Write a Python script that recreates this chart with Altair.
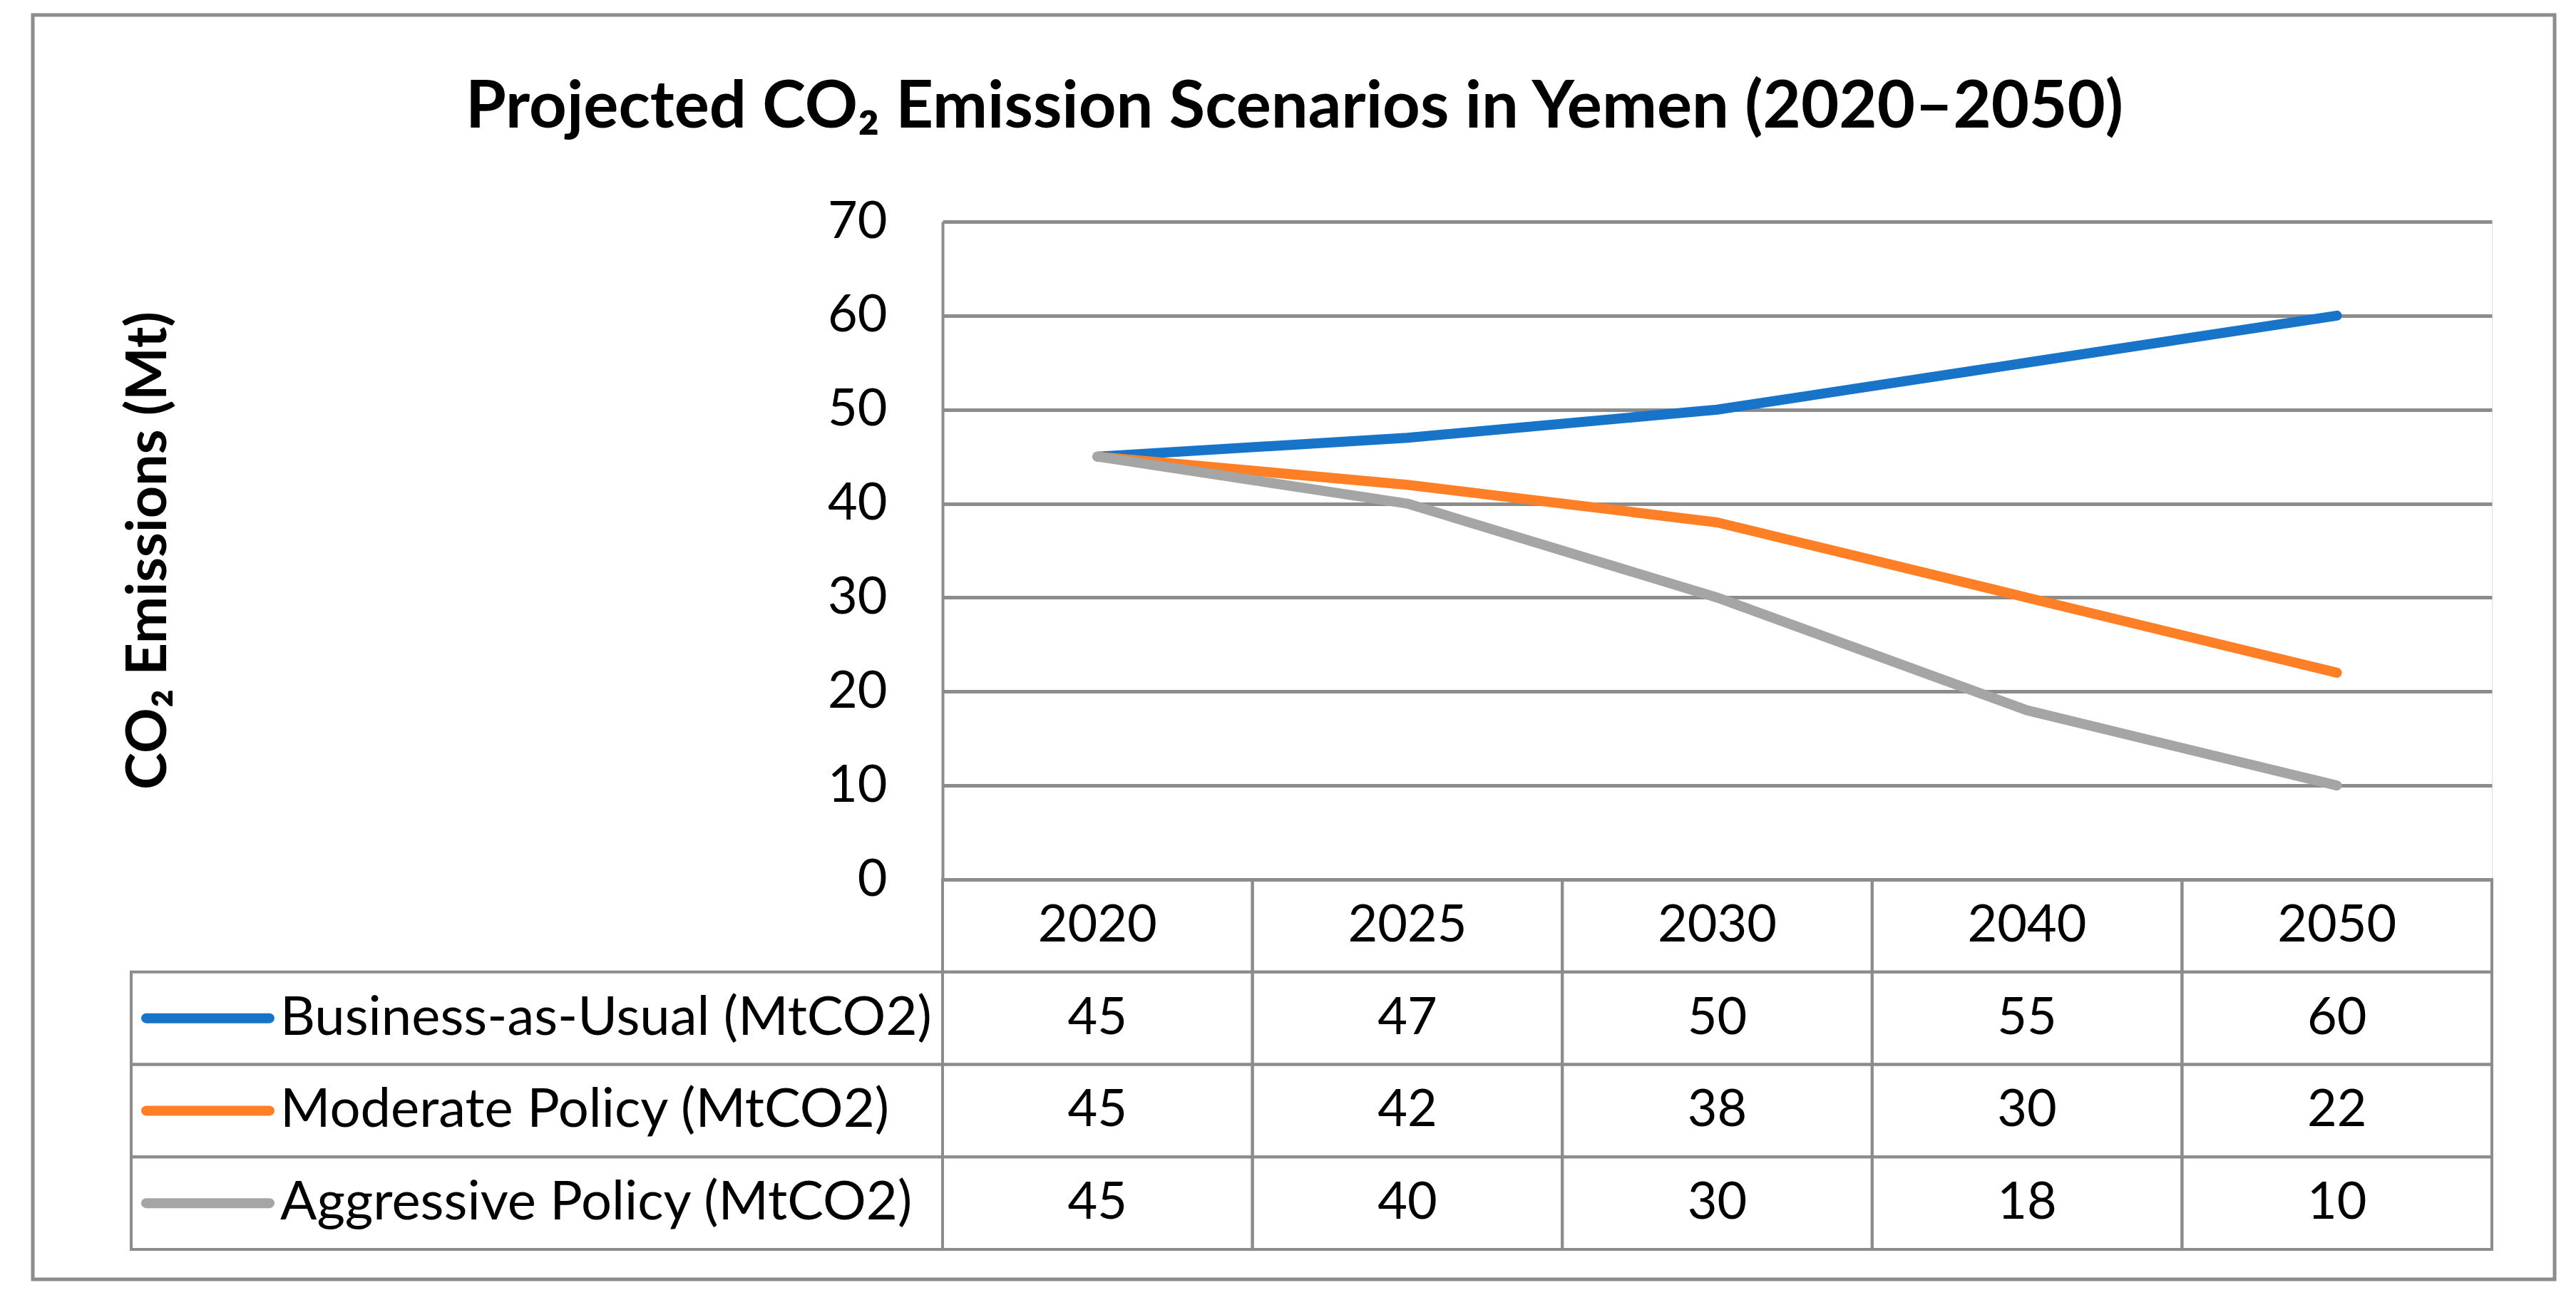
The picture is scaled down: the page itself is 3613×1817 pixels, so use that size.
import altair as alt
import pandas as pd

# ---- data ----
years = ["2020", "2025", "2030", "2040", "2050"]
series_names = [
    "Business-as-Usual (MtCO2)",
    "Moderate Policy (MtCO2)",
    "Aggressive Policy (MtCO2)",
]
bau = [45, 47, 50, 55, 60]
moderate = [45, 42, 38, 30, 22]
aggressive = [45, 40, 30, 18, 10]
y_ticks = [0, 10, 20, 30, 40, 50, 60, 70]
colors = ["#1874C9", "#FF7F27", "#A5A5A5"]

HEADER = "Year"
table_rows = [HEADER] + series_names

values_by_series = [bau, moderate, aggressive]
long_df = pd.DataFrame(
    [
        {"series": s, "row": s, "year": y, "value": v}
        for s, vals in zip(series_names, values_by_series)
        for y, v in zip(years, vals)
    ]
)
header_df = pd.DataFrame({"year": years, "row": HEADER})
cells_df = pd.DataFrame([{"year": y, "row": r} for r in table_rows for y in years])
label_df = pd.DataFrame({"series": series_names, "row": series_names})
frame_df = pd.DataFrame({"k": [0]})

FONT = "Lato"
GRID = "#8C8C8C"

# plot area (line region) size in px
W, H = 2173, 923
TABLE_BOTTOM = 1442
LABEL_COL = 1138

x_scale = alt.Scale(type="band", domain=years, paddingInner=0, paddingOuter=0)
row_scale = alt.Scale(type="band", domain=table_rows, range=[H, TABLE_BOTTOM],
                      paddingInner=0, paddingOuter=0)
color_scale = alt.Scale(domain=series_names, range=colors)

x_band = alt.X("year:N", scale=x_scale, axis=None, sort=years)
x_mid = alt.X("year:N", scale=x_scale, axis=None, sort=years, bandPosition=0.5)
y_row = alt.Y("row:N", scale=row_scale, axis=None, sort=table_rows)
y_row_mid = alt.Y("row:N", scale=row_scale, axis=None, sort=table_rows, bandPosition=0.5)

frame = alt.Chart(frame_df).mark_rect(
    fillOpacity=0, stroke=GRID, strokeWidth=5
).encode(
    x=alt.value(-1276), x2=alt.value(2261), y=alt.value(-290), y2=alt.value(1484)
)

year_cells = alt.Chart(cells_df).mark_rect(
    fillOpacity=0, stroke=GRID, strokeWidth=4
).encode(x=x_band, y=y_row)

label_cells = alt.Chart(label_df).mark_rect(
    fillOpacity=0, stroke=GRID, strokeWidth=4
).encode(x=alt.value(-LABEL_COL), x2=alt.value(0), y=y_row)

swatches = alt.Chart(label_df).mark_rule(
    strokeWidth=14, strokeCap="round"
).encode(
    x=alt.value(-1117), x2=alt.value(-944), y=y_row_mid,
    color=alt.Color("series:N", scale=color_scale, legend=None),
)

labels = alt.Chart(label_df).mark_text(
    align="left", baseline="middle", fontSize=76, font=FONT, color="black"
).encode(x=alt.value(-929), y=y_row_mid, text="series:N")

header_text = alt.Chart(header_df).mark_text(
    align="center", baseline="middle", fontSize=72, font=FONT, color="black"
).encode(x=x_mid, y=y_row_mid, text="year:N")

value_text = alt.Chart(long_df).mark_text(
    align="center", baseline="middle", fontSize=72, font=FONT, color="black"
).encode(x=x_mid, y=y_row_mid, text="value:Q")

lines = alt.Chart(long_df).mark_line(
    strokeWidth=14, strokeCap="round", strokeJoin="round"
).encode(
    x=x_mid,
    y=alt.Y(
        "value:Q",
        scale=alt.Scale(domain=[0, 70], nice=False, zero=True),
        axis=alt.Axis(
            values=y_ticks,
            grid=True, gridColor=GRID, gridWidth=5,
            domain=True, domainColor=GRID, domainWidth=4,
            ticks=False,
            labelFont=FONT, labelFontSize=72, labelColor="black", labelPadding=78,
            title="CO₂ Emissions (Mt)",
            titleFont=FONT, titleFontSize=79, titleFontWeight="bold", titleColor="black",
            titleAngle=270, titleAlign="center", titleBaseline="middle",
            titleX=-1114, titleY=461,
        ),
    ),
    color=alt.Color("series:N", scale=color_scale, legend=None),
    detail="series:N",
)

chart = alt.layer(
    frame, year_cells, label_cells, swatches, labels, header_text, value_text, lines
).resolve_scale(
    y="independent"
).properties(
    width=W,
    height=H,
    autosize=alt.AutoSizeParams(type="none"),
    padding={"left": 1314, "top": 303, "right": 110, "bottom": 575},
    title=alt.TitleParams(
        text="Projected CO₂ Emission Scenarios in Yemen (2020–2050)",
        font=FONT, fontSize=92, fontWeight="bold", color="black",
        anchor="middle", frame="group", baseline="alphabetic",
        offset=0, dy=252, dx=-593,
    ),
).configure_view(stroke=None).configure(background="white")

chart.save("out.html", embed_options={"renderer": "svg", "actions": False})
